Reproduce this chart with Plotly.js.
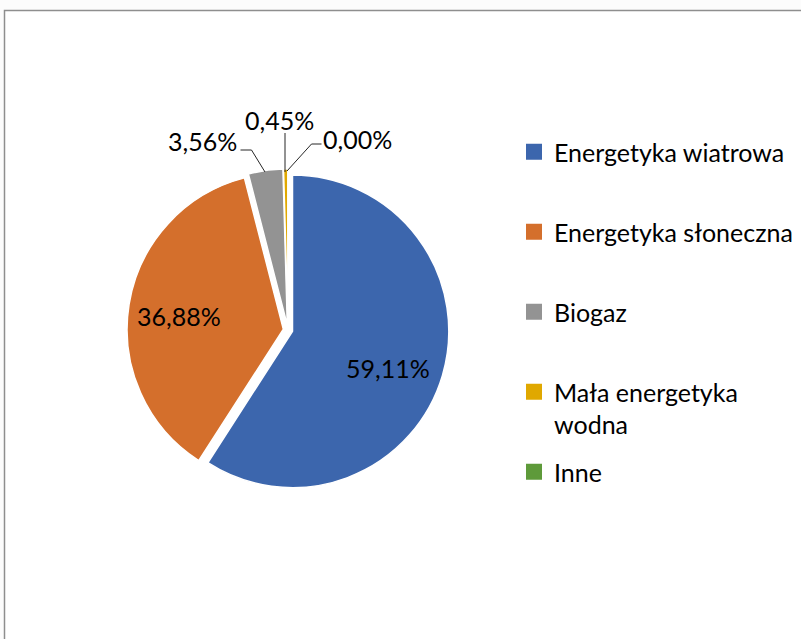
<!DOCTYPE html>
<html>
<head>
<meta charset="utf-8">
<script src="https://cdn.plot.ly/plotly-3.0.1.min.js"></script>
<style>html,body{margin:0;padding:0;background:#fcfcfc;}#chart{width:801px;height:639px;}</style>
</head>
<body>
<div id="chart"></div>
<script>
// ---- data ----
const labels = ['Energetyka wiatrowa', 'Energetyka słoneczna', 'Biogaz', 'Mała energetyka wodna', 'Inne'];
const values = [59.11, 36.88, 3.56, 0.45, 0.00];
const colors = ['#3c66ad', '#d46f2c', '#939393', '#e0a800', '#5e9a3a'];

// ---- helpers ----
const W = 801, H = 639;
const px = x => x / W;
const py = y => 1 - y / H;
const FONT = 'Lato, "Open Sans", sans-serif';
const FS = 25;
const fmt = v => v.toFixed(2).replace('.', ',') + '%';
function wrap(s, n) {
  if (s.length <= n) return s;
  const i = s.lastIndexOf(' ', n);
  return i > 0 ? s.slice(0, i) + '<br>' + s.slice(i + 1) : s;
}

const pie = {
  type: 'pie',
  labels: labels,
  values: values,
  sort: false,
  direction: 'clockwise',
  rotation: 0,
  pull: [0.03, 0.03, 0.03, 0.03, 0.03],
  marker: {colors: colors, line: {color: '#ffffff', width: 1.5}},
  textinfo: 'none',
  domain: {x: [px(127), px(449)], y: [py(491), py(169)]},
  showlegend: false,
  hoverinfo: 'label+percent'
};

// legend entries (one per category)
const legendY = [152, 232, 312, 408, 472];
const legendTraces = labels.map((l, i) => ({
  type: 'scatter', x: [null], y: [null], mode: 'markers',
  name: wrap(l, 20),
  marker: {symbol: 'square', size: 16, color: colors[i]},
  legend: i === 0 ? 'legend' : 'legend' + (i + 1),
  showlegend: true, hoverinfo: 'skip'
}));

// data label positions (pixels): inside for large slices, outside for small ones
const labelPos = [[388, 368], [179, 316], [202, 141], [279, 120], [357, 139]];

const layout = {
  width: W, height: H,
  margin: {l: 0, r: 0, t: 0, b: 0},
  paper_bgcolor: '#fcfcfc',
  plot_bgcolor: 'rgba(0,0,0,0)',
  font: {family: FONT, size: FS, color: '#000000'},
  xaxis: {visible: false}, yaxis: {visible: false},
  shapes: [
    {type: 'rect', xref: 'paper', yref: 'paper', layer: 'below',
     x0: px(4.5), y0: py(10.5), x1: 1.2, y1: -0.2,
     line: {color: '#8e8e8e', width: 1.5}, fillcolor: '#ffffff'},
    // leader lines for small slices
    {type: 'path', xref: 'paper', yref: 'paper',
     path: `M ${px(240.5)} ${py(150)} L ${px(251.5)} ${py(150)} L ${px(265)} ${py(172)}`,
     line: {color: '#262626', width: 1}},
    {type: 'path', xref: 'paper', yref: 'paper',
     path: `M ${px(285)} ${py(133)} L ${px(285)} ${py(172)}`,
     line: {color: '#262626', width: 1}},
    {type: 'path', xref: 'paper', yref: 'paper',
     path: `M ${px(321.5)} ${py(144)} L ${px(311.5)} ${py(144)} L ${px(287)} ${py(171)}`,
     line: {color: '#262626', width: 1}}
  ],
  annotations: values.map((v, i) => ({
    text: fmt(v), x: px(labelPos[i][0]), y: py(labelPos[i][1]),
    xref: 'paper', yref: 'paper', showarrow: false,
    xanchor: 'center', yanchor: 'middle',
    font: {family: FONT, size: FS, color: '#000000'}
  }))
};
legendY.forEach((y, i) => {
  layout[i === 0 ? 'legend' : 'legend' + (i + 1)] = {
    x: px(514), xanchor: 'left', y: py(y), yanchor: 'middle',
    bgcolor: 'rgba(0,0,0,0)', borderwidth: 0, valign: 'top',
    font: {family: FONT, size: FS, color: '#000000'}
  };
});

Plotly.newPlot('chart', [pie].concat(legendTraces), layout, {displayModeBar: false, staticPlot: true});
</script>
</body>
</html>
